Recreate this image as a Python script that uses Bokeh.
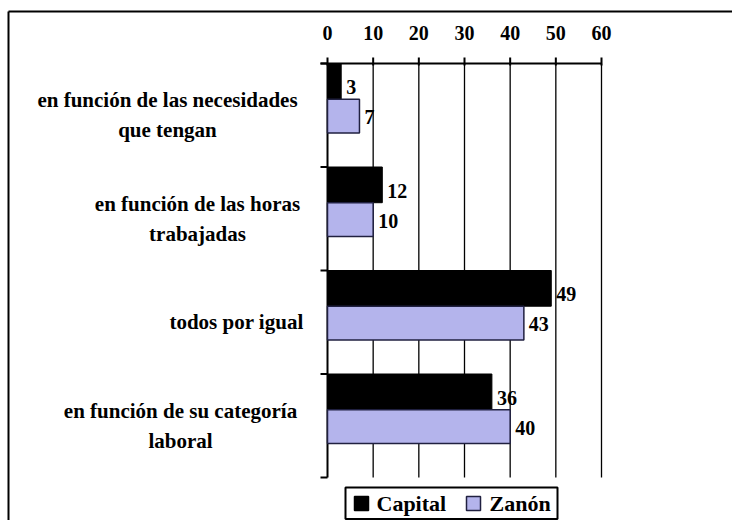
from bokeh.plotting import figure
from bokeh.models import Range1d
from bokeh.core.properties import value
from bokeh.embed import file_html
from bokeh.resources import INLINE

# ---- data ----
categories = [
    "en función de las necesidades\nque tengan",
    "en función de las horas\ntrabajadas",
    "todos por igual",
    "en función de su categoría\nlaboral",
]
capital = [3, 12, 49, 36]
zanon = [7, 10, 43, 40]
series = ["Capital", "Zanón"]
x_ticks = [0, 10, 20, 30, 40, 50, 60]

# ---- layout / style ----
W, H = 732, 520
FONT = value("Liberation Serif")
FS = "20px"
FS_CAT = "21px"
FS_LEG = "22px"
LAV = "#b4b4ec"
EDGE = "#202040"
X0_PX, X60_PX = 327, 601       # pixel of value 0 and 60
Y0_PX, Y4_PX = 63, 477         # pixel of top and bottom of the 4 bands
LABEL_CENTER_PX = [167, 197, 236, 180]


def px2x(px):
    return (px - X0_PX) / (X60_PX - X0_PX) * 60


def px2y(py):
    return (py - Y0_PX) / (Y4_PX - Y0_PX) * 4


p = figure(width=W, height=H, x_range=Range1d(px2x(0), px2x(W)),
           y_range=Range1d(px2y(H), px2y(0)),
           x_axis_location=None, y_axis_location=None,
           output_backend="svg", toolbar_location=None)
p.min_border = 0
p.min_border_left = p.min_border_right = p.min_border_top = p.min_border_bottom = 0
p.outline_line_color = None
p.background_fill_color = "white"
p.border_fill_color = "white"
p.grid.visible = False

n = len(categories)
bands = list(range(n + 1))

# outer chart border (top and left visible)
p.segment(x0=[px2x(8), px2x(8)], y0=[px2y(11), px2y(11)],
          x1=[px2x(740), px2x(8)], y1=[px2y(11), px2y(540)],
          line_color="black", line_width=2)

# vertical grid lines
p.segment(x0=x_ticks[1:], y0=0, x1=x_ticks[1:], y1=n,
          line_color="black", line_width=1.3)

# top value axis
p.segment(x0=px2x(320), y0=0, x1=x_ticks[-1], y1=0, line_color="black", line_width=2)
p.segment(x0=x_ticks, y0=px2y(57), x1=x_ticks, y1=px2y(65),
          line_color="black", line_width=2)
p.text(x=x_ticks, y=px2y(32), text=[str(t) for t in x_ticks],
       text_font=FONT, text_font_style="bold", text_font_size=FS,
       text_align="center", text_baseline="middle", text_color="black")

# left category axis
p.segment(x0=0, y0=0, x1=0, y1=n, line_color="black", line_width=2)
p.segment(x0=px2x(320), y0=bands, x1=0, y1=bands, line_color="black", line_width=2)
p.text(x=[px2x(c) for c in LABEL_CENTER_PX], y=[i + 0.5 for i in range(n)],
       text=categories, text_font=FONT, text_font_style="bold", text_font_size=FS_CAT,
       text_align="center", text_baseline="middle", text_line_height=1.25,
       text_color="black")

# bars
y_cap = [i + 0.1725 for i in range(n)]
y_zan = [i + 0.5085 for i in range(n)]
p.hbar(y=y_cap, height=0.345, left=0, right=capital,
       fill_color="black", line_color="black", line_width=1)
p.hbar(y=y_zan, height=0.327, left=0, right=zanon,
       fill_color=LAV, line_color=EDGE, line_width=1.5)

# value labels
p.text(x=capital, y=y_cap, text=[str(v) for v in capital], x_offset=5, y_offset=6,
       text_font=FONT, text_font_style="bold", text_font_size=FS,
       text_align="left", text_baseline="middle", text_color="black")
p.text(x=zanon, y=y_zan, text=[str(v) for v in zanon], x_offset=5, y_offset=1,
       text_font=FONT, text_font_style="bold", text_font_size=FS,
       text_align="left", text_baseline="middle", text_color="black")

# legend (drawn with glyphs)
p.quad(left=px2x(345), right=px2x(557), top=px2y(487), bottom=px2y(518.5),
       fill_color="white", line_color="black", line_width=2)
p.scatter(x=[px2x(361), px2x(473)], y=[px2y(503), px2y(503)], marker="square",
          size=14, fill_color=["black", LAV], line_color=["black", EDGE],
          line_width=1.5)
p.text(x=[px2x(376), px2x(489)], y=[px2y(503), px2y(503)], text=series,
       text_font=FONT, text_font_style="bold", text_font_size=FS_LEG,
       text_align="left", text_baseline="middle", text_color="black")

open("out.html", "w").write(file_html(p, INLINE))
